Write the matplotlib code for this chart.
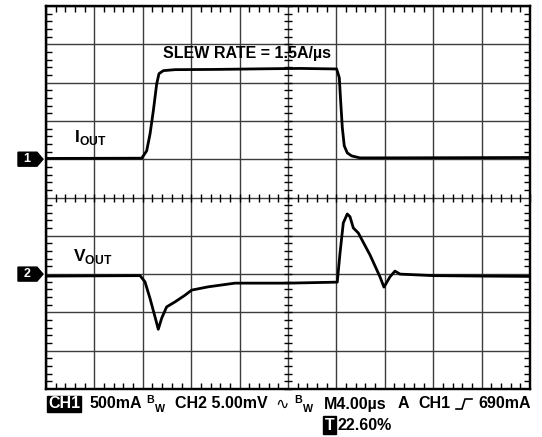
import numpy as np
import matplotlib
matplotlib.use('Agg')
import matplotlib.pyplot as plt
from matplotlib.patches import Polygon
from matplotlib.lines import Line2D
from matplotlib.transforms import blended_transform_factory

plt.rcParams['font.family'] = ['Liberation Sans', 'DejaVu Sans']
plt.rcParams['mathtext.fontset'] = 'custom'
plt.rcParams['mathtext.rm'] = 'Liberation Sans'
plt.rcParams['mathtext.bf'] = 'Liberation Sans:bold'

# ---- data (time in microseconds) ----
t_iout = [0.0, 7.91, 8.32, 8.60, 8.87, 9.15, 9.34, 9.70, 10.66, 14.0, 18.0, 21.0,
          24.02, 24.24, 24.35, 24.49, 24.65, 24.90, 25.26, 25.95, 30.0, 35.0, 40.0]
iout_a = [0.010, 0.013, 0.109, 0.331, 0.632, 0.986, 1.117, 1.156, 1.169, 1.172, 1.180, 1.185,
          1.178, 1.064, 0.763, 0.410, 0.174, 0.082, 0.043, 0.017, 0.018, 0.020, 0.022]

t_vout = [0.0, 7.77, 8.18, 8.59, 9.01, 9.28, 9.56, 9.97, 10.66, 11.49, 12.04, 13.41, 15.62,
          20.0, 24.07, 24.30, 24.57, 24.90, 25.12, 25.40, 25.81, 26.78, 27.60, 27.93,
          28.43, 28.84, 29.26, 32.0, 36.0, 40.0]
vout_mv = [-0.26, -0.20, -1.01, -3.14, -5.59, -7.20, -5.76, -4.28, -3.63, -2.75, -2.09, -1.66, -1.18,
           -1.18, -1.05, 2.75, 6.68, 7.85, 7.50, 6.02, 5.37, 2.49, -0.35, -1.70,
           -0.35, 0.39, 0.0, -0.20, -0.26, -0.30]

ch1_scale = 0.5   # A/div
ch2_scale = 5.0   # mV/div
time_scale = 4.0  # us/div
ch1_pos = 6       # divisions from bottom
ch2_pos = 3

W, H = 542, 437
fig = plt.figure(figsize=(W / 100, H / 100), dpi=100)
L, R, T, B = 46, 530, 6, 389
ax = fig.add_axes([L / W, 1 - B / H, (R - L) / W, (B - T) / H])
ax2 = ax.twinx()

ax.set_xlim(0, 10 * time_scale)
ax.set_ylim(-ch1_pos * ch1_scale, (10 - ch1_pos) * ch1_scale)
ax2.set_ylim(-ch2_pos * ch2_scale, (10 - ch2_pos) * ch2_scale)

ax.set_xticks(np.arange(0, 10 * time_scale + 0.01, time_scale))
ax.set_yticks(np.arange(-ch1_pos * ch1_scale, (10 - ch1_pos) * ch1_scale + 0.01, ch1_scale))
ax.set_xticks(np.arange(0, 10 * time_scale + 0.01, time_scale / 5), minor=True)
ax.set_yticks(np.arange(-ch1_pos * ch1_scale, (10 - ch1_pos) * ch1_scale + 0.01, ch1_scale / 5), minor=True)
ax.grid(True, which='major', color='#3c3c3c', lw=1.0)
ax.tick_params(which='major', length=0, labelbottom=False, labelleft=False)
ax.tick_params(which='minor', direction='in', length=4, width=1, color='k',
               top=True, right=True, bottom=True, left=True)
ax2.set_yticks([])
ax2.tick_params(length=0, labelright=False)
for a in (ax, ax2):
    for s in a.spines.values():
        s.set_linewidth(1.6)
        s.set_color('k')
ax.set_axisbelow(True)

# center cross ticks
cx = np.arange(0, 1.0001, 0.02)
ax.plot(cx, [0.5] * len(cx), transform=ax.transAxes, ls='none', marker='|',
        ms=6, mew=1, color='k', clip_on=False)
ax.plot([0.5] * len(cx), cx, transform=ax.transAxes, ls='none', marker='_',
        ms=6, mew=1, color='k', clip_on=False)

# traces
ax.plot(t_iout, iout_a, color='k', lw=2.0, zorder=5)
ax2.plot(t_vout, vout_mv, color='k', lw=2.0, zorder=5)

# labels
ax.text(9.67, 1.38, 'SLEW RATE = 1.5A/\u00b5s', fontsize=11.5, fontweight='bold',
        ha='left', va='center')
ax.text(2.35, 0.28, r'$\mathbf{I}_{\mathbf{OUT}}$', fontsize=12.5, ha='left', va='center')
ax2.text(2.2, 2.3, r'$\mathbf{V}_{\mathbf{OUT}}$', fontsize=12.5, ha='left', va='center')

# channel markers
tr = blended_transform_factory(fig.transFigure, ax.transAxes)
for pos, lab in ((ch1_pos, '1'), (ch2_pos, '2')):
    yc = pos / 10
    dy = 7 / (B - T)
    pts = [(18 / W, yc - dy), (37 / W, yc - dy), (43 / W, yc), (37 / W, yc + dy), (18 / W, yc + dy)]
    fig.patches.append(Polygon(pts, closed=True, transform=tr, facecolor='k', edgecolor='k',
                               figure=fig))
    fig.text(27 / W, yc, lab, transform=tr, color='white', fontsize=9, fontweight='bold',
             ha='center', va='center')

# bottom status text
def ftxt(x, y, s, **kw):
    kw.setdefault('fontsize', 11.5)
    kw.setdefault('fontweight', 'bold')
    kw.setdefault('va', 'center')
    kw.setdefault('ha', 'left')
    return fig.text(x / W, 1 - y / H, s, **kw)

bw = r'${}^{\mathbf{B}}{}_{\mathbf{W}}$'
y1, y2 = 404, 425
ftxt(48, y1, 'CH1', color='white',
     bbox=dict(boxstyle='square,pad=0.06', facecolor='k', edgecolor='k'))
ftxt(89.5, y1, '500mA')
ftxt(146, y1, bw, fontsize=11)
ftxt(175, y1, 'CH2 5.00mV')
ftxt(275, y1, '\u223f', fontsize=11.5, fontweight='normal', family=['DejaVu Sans'])
ftxt(294, y1, bw, fontsize=11)
ftxt(324, y1, 'M4.00\u00b5s')
ftxt(398, y1, 'A')
ftxt(418, y1, 'CH1')
fig.lines.append(Line2D([456 / W, 462 / W, 465 / W, 472 / W],
                        [1 - (y1 + 5) / H, 1 - (y1 + 5) / H, 1 - (y1 - 5) / H, 1 - (y1 - 5) / H],
                        transform=fig.transFigure, color='k', lw=1.2))
ftxt(531, y1, '690mA', ha='right')
ftxt(325, y2, 'T', color='white',
     bbox=dict(boxstyle='square,pad=0.1', facecolor='k', edgecolor='k'))
ftxt(338, y2, '22.60%')

fig.savefig('out.png', dpi=100, facecolor='white')
